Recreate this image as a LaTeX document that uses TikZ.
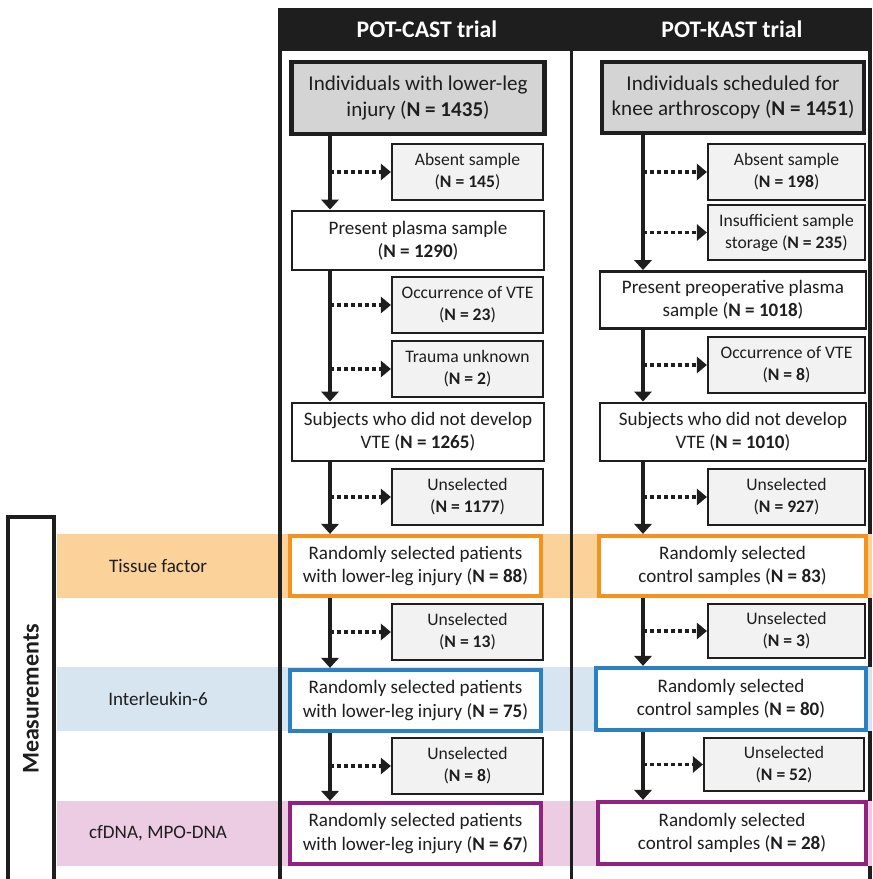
\documentclass[tikz,border=0pt]{standalone}
\usepackage{fontspec}
\setmainfont{Carlito}
\usetikzlibrary{arrows.meta}
\definecolor{ink}{HTML}{1E1E1E}
\definecolor{startgray}{HTML}{D4D4D4}
\definecolor{dropgray}{HTML}{F2F2F2}
\definecolor{tfband}{HTML}{FAD29A}
\definecolor{tfline}{HTML}{F5921E}
\definecolor{ilband}{HTML}{D7E5F1}
\definecolor{illine}{HTML}{2A80C2}
\definecolor{dnaband}{HTML}{ECCCE2}
\definecolor{dnaline}{HTML}{92217F}
\begin{document}
\begin{tikzpicture}[x=0.75pt, y=-0.75pt, font=\fontsize{14.3}{17.5}\selectfont, line join=miter,
  sz/.style 2 args={minimum width=#1*0.75pt, minimum height=#2*0.75pt},
  flow/.style={draw=ink, line width=2.2pt, fill=white, inner sep=0pt, align=center, text=ink},
  startbox/.style={flow, fill=startgray, line width=3.2pt, font=\fontsize{15.8}{19}\selectfont},
  dropbox/.style={flow, fill=dropgray, line width=1.6pt, font=\fontsize{13.2}{16.5}\selectfont},
  selbox/.style={flow, line width=3.2pt, draw=#1},
  mainarr/.style={draw=ink, line width=2.4pt, -{Triangle[width=13pt,length=7.5pt]}},
  dotarr/.style={draw=ink, line width=2.4pt, dash pattern=on 3pt off 2.2pt, -{Triangle[width=12pt,length=7.5pt]}},
  colhead/.style={text=white, font=\fontsize{17.8}{20}\selectfont\bfseries},
  bandlab/.style={text=ink}]
\clip (0,0) rectangle (872,879);
% right border sits under the bands
\draw[ink, line width=2.6pt] (870,51) -- (870,879);
% measurement bands
\fill[tfband] (57,534) rectangle (872,598);
\fill[ilband] (57,667) rectangle (872,731);
\fill[dnaband] (57,801) rectangle (872,866);
\node[bandlab] (tflab) at (158,566) {Tissue factor};
\node[bandlab] (illab) at (158,699) {Interleukin-6};
\node[bandlab] (dnalab) at (158,833) {cfDNA, MPO-DNA};
\draw[ink, line width=2.4pt] (8,900) |- (54,517) -- (54,900);
\node[rotate=90, text=ink, font=\fontsize{18}{20}\selectfont\bfseries] (meas) at (31,699) {Measurements};
% trial columns
\draw[ink, line width=3pt] (280,51) -- (280,879);
\draw[ink, line width=2.6pt] (571.5,51) -- (571.5,879);
\fill[ink] (278,8) rectangle (872,51);
\node[colhead] (casthead) at (427,29.5) {POT-CAST trial};
\node[colhead] (kasthead) at (732,29.5) {POT-KAST trial};
\coordinate (cspine) at (330,0);
\coordinate (kspine) at (643,0);

% POT-CAST
\node[startbox, sz={253}{72}] (c1) at (418,98) {Individuals with lower-leg\\injury (\textbf{N = 1435})};
\node[dropbox, sz={151}{56}] (cabs) at (467.5,172) {Absent sample\\(\textbf{N = 145})};
\node[flow, sz={252}{59}] (cpres) at (418,240.5) {Present plasma sample\\(\textbf{N = 1290})};
\node[dropbox, sz={151}{56}] (cvte) at (467.5,305) {Occurrence of VTE\\(\textbf{N = 23})};
\node[dropbox, sz={151}{56}] (ctrau) at (467.5,369) {Trauma unknown\\(\textbf{N = 2})};
\node[flow, sz={252}{58}] (cnod) at (418,432) {Subjects who did not develop\\VTE (\textbf{N = 1265})};
\node[dropbox, sz={151}{56}] (cun1) at (467.5,497) {Unselected\\(\textbf{N = 1177})};
\node[selbox=tfline, sz={251}{60}] (ctf) at (415.5,566) {Randomly selected patients\\with lower-leg injury (\textbf{N = 88})};
\node[dropbox, sz={151}{56}] (cun2) at (467.5,632) {Unselected\\(\textbf{N = 13})};
\node[selbox=illine, sz={251}{61}] (cil) at (415.5,700.5) {Randomly selected patients\\with lower-leg injury (\textbf{N = 75})};
\node[dropbox, sz={151}{56}] (cun3) at (467.5,766) {Unselected\\(\textbf{N = 8})};
\node[selbox=dnaline, sz={251}{61}] (cdna) at (415.5,833.5) {Randomly selected patients\\with lower-leg injury (\textbf{N = 67})};

% POT-KAST
\node[startbox, sz={262}{71}] (k1) at (733,97.5) {Individuals scheduled for\\knee arthroscopy (\textbf{N = 1451})};
\node[dropbox, sz={157}{56}] (kabs) at (786.5,172) {Absent sample\\(\textbf{N = 198})};
\node[dropbox, sz={157}{55}] (kins) at (786.5,232.5) {Insufficient sample\\storage (\textbf{N = 235})};
\node[flow, sz={266}{57}] (kpres) at (733,300) {Present preoperative plasma\\sample (\textbf{N = 1018})};
\node[dropbox, sz={157}{56}] (kvte) at (786.5,365) {Occurrence of VTE\\(\textbf{N = 8})};
\node[flow, sz={266}{58}] (knod) at (733,432) {Subjects who did not develop\\VTE (\textbf{N = 1010})};
\node[dropbox, sz={157}{56}] (kun1) at (786.5,497) {Unselected\\(\textbf{N = 927})};
\node[selbox=tfline, sz={267}{60}] (ktf) at (732.5,566) {Randomly selected\\control samples (\textbf{N = 83})};
\node[dropbox, sz={157}{54}] (kun2) at (786.5,631) {Unselected\\(\textbf{N = 3})};
\node[selbox=illine, sz={270}{62}] (kil) at (731,699) {Randomly selected\\control samples (\textbf{N = 80})};
\node[dropbox, sz={160}{53}] (kun3) at (784,764.5) {Unselected\\(\textbf{N = 52})};
\node[selbox=dnaline, sz={268}{62}] (kdna) at (732,833) {Randomly selected\\control samples (\textbf{N = 28})};

% arrows
\foreach \a/\b in {c1/cpres, cpres/cnod, cnod/ctf, ctf/cil, cil/cdna}
  \draw[mainarr] (\a.south -| cspine) -- (\b.north -| cspine);
\foreach \a/\b in {k1/kpres, kpres/knod, knod/ktf, ktf/kil, kil/kdna}
  \draw[mainarr] (\a.south -| kspine) -- (\b.north -| kspine);
\foreach \d in {cabs, cvte, ctrau, cun1, cun2, cun3}
  \draw[dotarr] (\d.west -| cspine) -- (\d.west);
\foreach \d in {kabs, kins, kvte, kun1, kun2, kun3}
  \draw[dotarr] (\d.west -| kspine) -- (\d.west);
\end{tikzpicture}
\end{document}
